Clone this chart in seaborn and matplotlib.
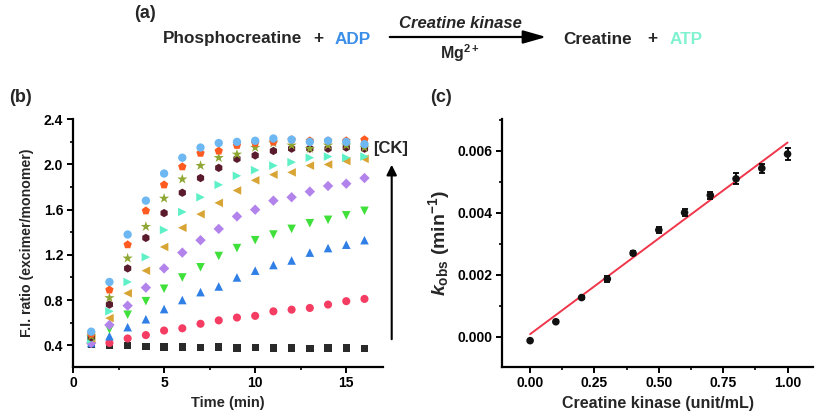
import numpy as np
import pandas as pd
import matplotlib
matplotlib.use("Agg")
import matplotlib.pyplot as plt
import seaborn as sns
from matplotlib.ticker import MultipleLocator

# ---------------- data ----------------
time_min = [1, 2, 3, 4, 5, 6, 7, 8, 9, 10, 11, 12, 13, 14, 15, 16]

series_names = ["s1", "s2", "s3", "s4", "s5", "s6", "s7", "s8", "s9", "s10", "s11"]
s1 = [0.41, 0.40, 0.395, 0.39, 0.385, 0.385, 0.38, 0.385, 0.375, 0.38, 0.375, 0.375, 0.37, 0.375, 0.375, 0.37]
s2 = [0.42, 0.42, 0.46, 0.49, 0.53, 0.55, 0.59, 0.62, 0.645, 0.66, 0.70, 0.715, 0.73, 0.76, 0.79, 0.81]
s3 = [0.42, 0.48, 0.56, 0.63, 0.72, 0.80, 0.87, 0.92, 1.00, 1.06, 1.11, 1.15, 1.22, 1.26, 1.29, 1.33]
s4 = [0.44, 0.54, 0.67, 0.79, 0.90, 1.00, 1.09, 1.19, 1.26, 1.33, 1.38, 1.43, 1.48, 1.51, 1.55, 1.59]
s5 = [0.42, 0.58, 0.75, 0.91, 1.08, 1.22, 1.33, 1.43, 1.54, 1.60, 1.68, 1.71, 1.76, 1.81, 1.83, 1.88]
s6 = [0.46, 0.64, 0.86, 1.06, 1.27, 1.44, 1.56, 1.66, 1.77, 1.86, 1.91, 1.93, 1.99, 2.00, 2.03, 2.05]
s7 = [0.45, 0.70, 0.96, 1.18, 1.42, 1.58, 1.71, 1.82, 1.90, 1.95, 1.99, 2.02, 2.06, 2.07, 2.06, 2.07]
s8 = [0.47, 0.76, 1.08, 1.35, 1.57, 1.75, 1.88, 1.97, 2.05, 2.08, 2.12, 2.14, 2.14, 2.14, 2.15, 2.14]
s9 = [0.48, 0.82, 1.17, 1.45, 1.70, 1.87, 1.99, 2.06, 2.09, 2.15, 2.19, 2.17, 2.14, 2.17, 2.17, 2.15]
s10 = [0.50, 0.89, 1.29, 1.59, 1.82, 1.98, 2.10, 2.12, 2.17, 2.19, 2.20, 2.22, 2.21, 2.21, 2.21, 2.22]
s11 = [0.52, 0.96, 1.38, 1.68, 1.92, 2.06, 2.15, 2.19, 2.20, 2.21, 2.23, 2.22, 2.20, 2.21, 2.20, 2.18]
series_values = [s1, s2, s3, s4, s5, s6, s7, s8, s9, s10, s11]

ck_conc = [0.0, 0.1, 0.2, 0.3, 0.4, 0.5, 0.6, 0.7, 0.8, 0.9, 1.0]
k_obs = [-0.00013, 0.00048, 0.00126, 0.00186, 0.00269, 0.00344, 0.00400, 0.00456, 0.00509, 0.00543, 0.00589]
k_err = [0.00003, 0.00005, 0.00005, 0.00010, 0.00006, 0.00010, 0.00011, 0.00012, 0.00018, 0.00015, 0.00020]
fit_intercept = 0.00008
fit_slope = 0.00618

# ---------------- styles ----------------
series_colors = ["#2a2a2a", "#f53c62", "#2f7fe6", "#3fe03a", "#b383ec", "#d8a534",
                 "#5ef0c6", "#5a1c2c", "#8ea632", "#ff5a1f", "#6db7f2"]
series_markers = ["s", "o", "^", "v", "D", "<", ">", "h", "*", "p", "o"]
series_sizes = [28, 34, 38, 38, 28, 38, 38, 36, 60, 40, 36]

sns.set_theme(style="white")
plt.rcParams["font.family"] = ["Liberation Sans", "DejaVu Sans"]
plt.rcParams["font.weight"] = "bold"
plt.rcParams["axes.labelweight"] = "bold"
plt.rcParams["mathtext.fontset"] = "custom"
plt.rcParams["mathtext.rm"] = "Liberation Sans:bold"
plt.rcParams["mathtext.bf"] = "Liberation Sans:bold"
plt.rcParams["mathtext.it"] = "Liberation Sans:italic:bold"

fig = plt.figure(figsize=(8.18, 4.18), dpi=100)

def style_axes(ax, labelsize=10):
    for sp in ["top", "right"]:
        ax.spines[sp].set_visible(False)
    for sp in ["left", "bottom"]:
        ax.spines[sp].set_color("black")
        ax.spines[sp].set_linewidth(1.6)
    ax.tick_params(which="major", direction="out", length=4, width=1.4, colors="black",
                   labelsize=labelsize, pad=3, bottom=True, left=True)
    ax.tick_params(which="minor", direction="out", length=2.5, width=1.2, colors="black",
                   bottom=True, left=True)
    for lbl in ax.get_xticklabels() + ax.get_yticklabels():
        lbl.set_fontweight("bold")

# ---------------- panel (b) ----------------
axb = fig.add_axes([73 / 818, 1 - 366.7 / 418, 309.7 / 818, 247.4 / 418])
rows = []
for name, vals in zip(series_names, series_values):
    for t, v in zip(time_min, vals):
        rows.append({"time": t, "ratio": v, "series": name})
df_b = pd.DataFrame(rows)
for name, col, mk, sz in zip(series_names, series_colors, series_markers, series_sizes):
    sns.scatterplot(data=df_b[df_b["series"] == name], x="time", y="ratio", ax=axb,
                    color=col, marker=mk, s=sz, edgecolor="none", linewidth=0,
                    legend=False, zorder=3)
axb.set_xlim(0, 17)
axb.set_ylim(0.21, 2.4)
axb.xaxis.set_major_locator(MultipleLocator(5))
axb.xaxis.set_minor_locator(MultipleLocator(2.5))
axb.yaxis.set_minor_locator(MultipleLocator(0.2))
axb.set_yticks([0.4, 0.8, 1.2, 1.6, 2.0, 2.4])
axb.set_xlabel("Time (min)", fontsize=10.5, fontweight="bold", labelpad=4)
axb.set_ylabel("F.I. ratio (excimer/monomer)", fontsize=10.2, fontweight="bold", labelpad=7)
style_axes(axb, 10)

# [CK] arrow
fig.text(391 / 818, 1 - 148 / 418, "[CK]", fontsize=12, fontweight="bold",
         ha="center", va="center")
fig.add_artist(matplotlib.patches.FancyArrowPatch(
    (391.7 / 818, 1 - 342 / 418), (391.7 / 818, 1 - 162 / 418),
    transform=fig.transFigure, arrowstyle="-|>,head_length=6,head_width=3",
    color="black", linewidth=1.5, mutation_scale=1))

# ---------------- panel (c) ----------------
axc = fig.add_axes([502.3 / 818, 1 - 366.7 / 418, 311 / 818, 247.4 / 418])
df_c = pd.DataFrame({"ck": ck_conc, "kobs": k_obs, "err": k_err})
df_c["fit"] = fit_intercept + fit_slope * df_c["ck"]
sns.lineplot(data=df_c, x="ck", y="fit", ax=axc, color="#f0364a", linewidth=1.4, zorder=2)
axc.errorbar(df_c["ck"], df_c["kobs"], yerr=df_c["err"], fmt="none", ecolor="black",
             elinewidth=1.3, capsize=2.5, capthick=1.3, zorder=3)
sns.scatterplot(data=df_c, x="ck", y="kobs", ax=axc, color="#111111", marker="o", s=30,
                edgecolor="none", linewidth=0, legend=False, zorder=4)
axc.set_xlim(-0.108, 1.10)
axc.set_ylim(-0.00097, 0.00701)
axc.xaxis.set_minor_locator(MultipleLocator(0.125))
axc.yaxis.set_minor_locator(MultipleLocator(0.001))
axc.set_yticks([0.0, 0.002, 0.004, 0.006])
axc.set_yticklabels(["0.000", "0.002", "0.004", "0.006"])
axc.set_xticks([0.0, 0.25, 0.5, 0.75, 1.0])
axc.set_xticklabels(["0.00", "0.25", "0.50", "0.75", "1.00"])
axc.set_xlabel("Creatine kinase (unit/mL)", fontsize=11.5, fontweight="bold", labelpad=4)
axc.set_ylabel(r"$\mathit{k}_{\mathrm{obs}}$ (min$^{\mathrm{-1}}$)", fontsize=14,
               fontweight="bold", labelpad=4)
style_axes(axc, 10)

# ---------------- panel labels and reaction scheme ----------------
fig.text(145 / 818, 1 - 13 / 418, "(a)", fontsize=13, fontweight="bold", ha="center", va="center")
fig.text(20 / 818, 1 - 97 / 418, "(b)", fontsize=13, fontweight="bold", ha="center", va="center")
fig.text(441 / 818, 1 - 97 / 418, "(c)", fontsize=13, fontweight="bold", ha="center", va="center")

ry = 1 - 39 / 418
fs = 12.3
fig.text(163 / 818, ry, "Phosphocreatine", fontsize=fs, fontweight="bold", ha="left", va="center")
fig.text(318 / 818, ry, "+", fontsize=fs, fontweight="bold", ha="center", va="center")
fig.text(335 / 818, ry, "ADP", fontsize=fs, fontweight="bold", ha="left", va="center", color="#3a8ee8")
fig.add_artist(matplotlib.patches.FancyArrowPatch(
    (387 / 818, 1 - 37 / 418), (549 / 818, 1 - 37 / 418),
    transform=fig.transFigure, arrowstyle="-|>,head_length=14,head_width=4",
    color="black", linewidth=1.6, mutation_scale=1))
fig.text(460 / 818, 1 - 23 / 418, "Creatine kinase", fontsize=12, fontweight="bold",
         style="italic", ha="center", va="center")
fig.text(460 / 818, 1 - 53 / 418, r"Mg$^{\mathbf{2+}}$", fontsize=11.5, fontweight="bold",
         ha="center", va="center")
fig.text(563 / 818, ry, "Creatine", fontsize=fs, fontweight="bold", ha="left", va="center")
fig.text(652 / 818, ry, "+", fontsize=fs, fontweight="bold", ha="center", va="center")
fig.text(670 / 818, ry, "ATP", fontsize=fs, fontweight="bold", ha="left", va="center", color="#80f2d0")

fig.savefig("out.png", dpi=100)
